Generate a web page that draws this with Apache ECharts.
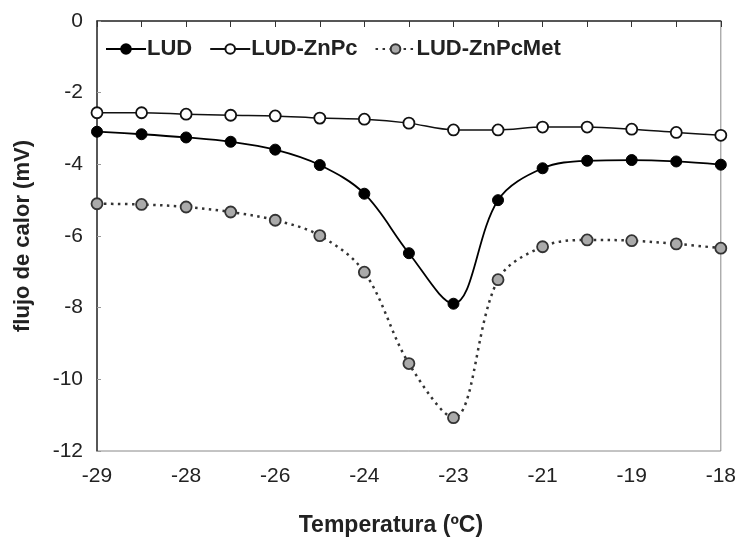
<!DOCTYPE html>
<html>
<head>
<meta charset="utf-8">
<script src="https://cdn.jsdelivr.net/npm/echarts@6/dist/echarts.min.js"></script>
<style>html,body{margin:0;padding:0;background:#fff}#c{width:739px;height:542px}</style>
</head>
<body>
<div id="c"></div>
<script>
var categories = ['-29','','-28','','-26','','-24','','-23','','-21','','-19','','-18'];
var lud =        [-3.09,-3.16,-3.25,-3.37,-3.59,-4.02,-4.82,-6.48,-7.89,-5.00,-4.11,-3.90,-3.88,-3.92,-4.01];
var ludZnPc =    [-2.56,-2.56,-2.60,-2.63,-2.65,-2.71,-2.74,-2.85,-3.04,-3.04,-2.96,-2.96,-3.02,-3.11,-3.19];
var ludZnPcMet = [-5.10,-5.12,-5.19,-5.33,-5.56,-5.99,-7.01,-9.56,-11.07,-7.22,-6.30,-6.11,-6.13,-6.22,-6.34];
var yTicks = { min: -12, max: 0, interval: 2 };

var FONT = 'Liberation Sans, Arial, sans-serif';
var chart = echarts.init(document.getElementById('c'), null, {renderer: 'canvas'});
chart.setOption({
  animation: false,
  backgroundColor: '#fff',
  textStyle: { fontFamily: FONT },
  grid: { left: 97, right: 17, top: 21, bottom: 88, show: true, borderColor: '#888', borderWidth: 1, backgroundColor: 'transparent' },
  legend: {
    left: 100, top: 33, itemWidth: 40, itemHeight: 12, itemGap: 17,
    textStyle: { fontFamily: FONT, fontSize: 22, fontWeight: 'bold', color: '#222', padding: [0,0,0,-4] },
    data: ['LUD', 'LUD-ZnPc', 'LUD-ZnPcMet']
  },
  xAxis: {
    type: 'category', data: categories, boundaryGap: false,
    name: 'Temperatura (ºC)', nameLocation: 'middle', nameGap: 63,
    nameTextStyle: { fontFamily: FONT, fontSize: 23, fontWeight: 'bold', color: '#222', padding: [0, 36, 0, 0] },
    axisLine: { lineStyle: { color: '#333', width: 1.5 } },
    axisTick: { show: true, interval: 0, inside: false, length: 6, lineStyle: { color: '#333' } },
    axisLabel: { interval: 0, margin: 15, fontFamily: FONT, fontSize: 21, color: '#222' },
    splitLine: { show: false }
  },
  yAxis: {
    type: 'value', min: yTicks.min, max: yTicks.max, interval: yTicks.interval,
    name: 'flujo de calor (mV)', nameLocation: 'middle', nameGap: 63,
    nameTextStyle: { fontFamily: FONT, fontSize: 22, fontWeight: 'bold', color: '#222' },
    axisLine: { show: true, lineStyle: { color: '#333', width: 1.5 } },
    axisTick: { show: true, inside: true, length: 4, lineStyle: { color: '#999' } },
    axisLabel: { margin: 14, fontFamily: FONT, fontSize: 21, color: '#222' },
    splitLine: { show: false }
  },
  series: [
    { name: 'LUD', type: 'line', data: lud, smooth: 0.35, symbol: 'circle', symbolSize: 11,
      lineStyle: { color: '#000', width: 1.8 },
      itemStyle: { color: '#000', borderColor: '#000', borderWidth: 1 }, z: 3 },
    { name: 'LUD-ZnPc', type: 'line', data: ludZnPc, smooth: 0.3, symbol: 'circle', symbolSize: 11,
      lineStyle: { color: '#111', width: 1.5 },
      itemStyle: { color: '#fff', borderColor: '#111', borderWidth: 1.8 }, z: 2 },
    { name: 'LUD-ZnPcMet', type: 'line', data: ludZnPcMet, smooth: 0.35, symbol: 'circle', symbolSize: 11,
      lineStyle: { color: '#333', width: 2.5, type: [2.5, 4.5] },
      itemStyle: { color: '#aaa', borderColor: '#333', borderWidth: 1.8 }, z: 1 }
  ]
});
</script>
</body>
</html>
